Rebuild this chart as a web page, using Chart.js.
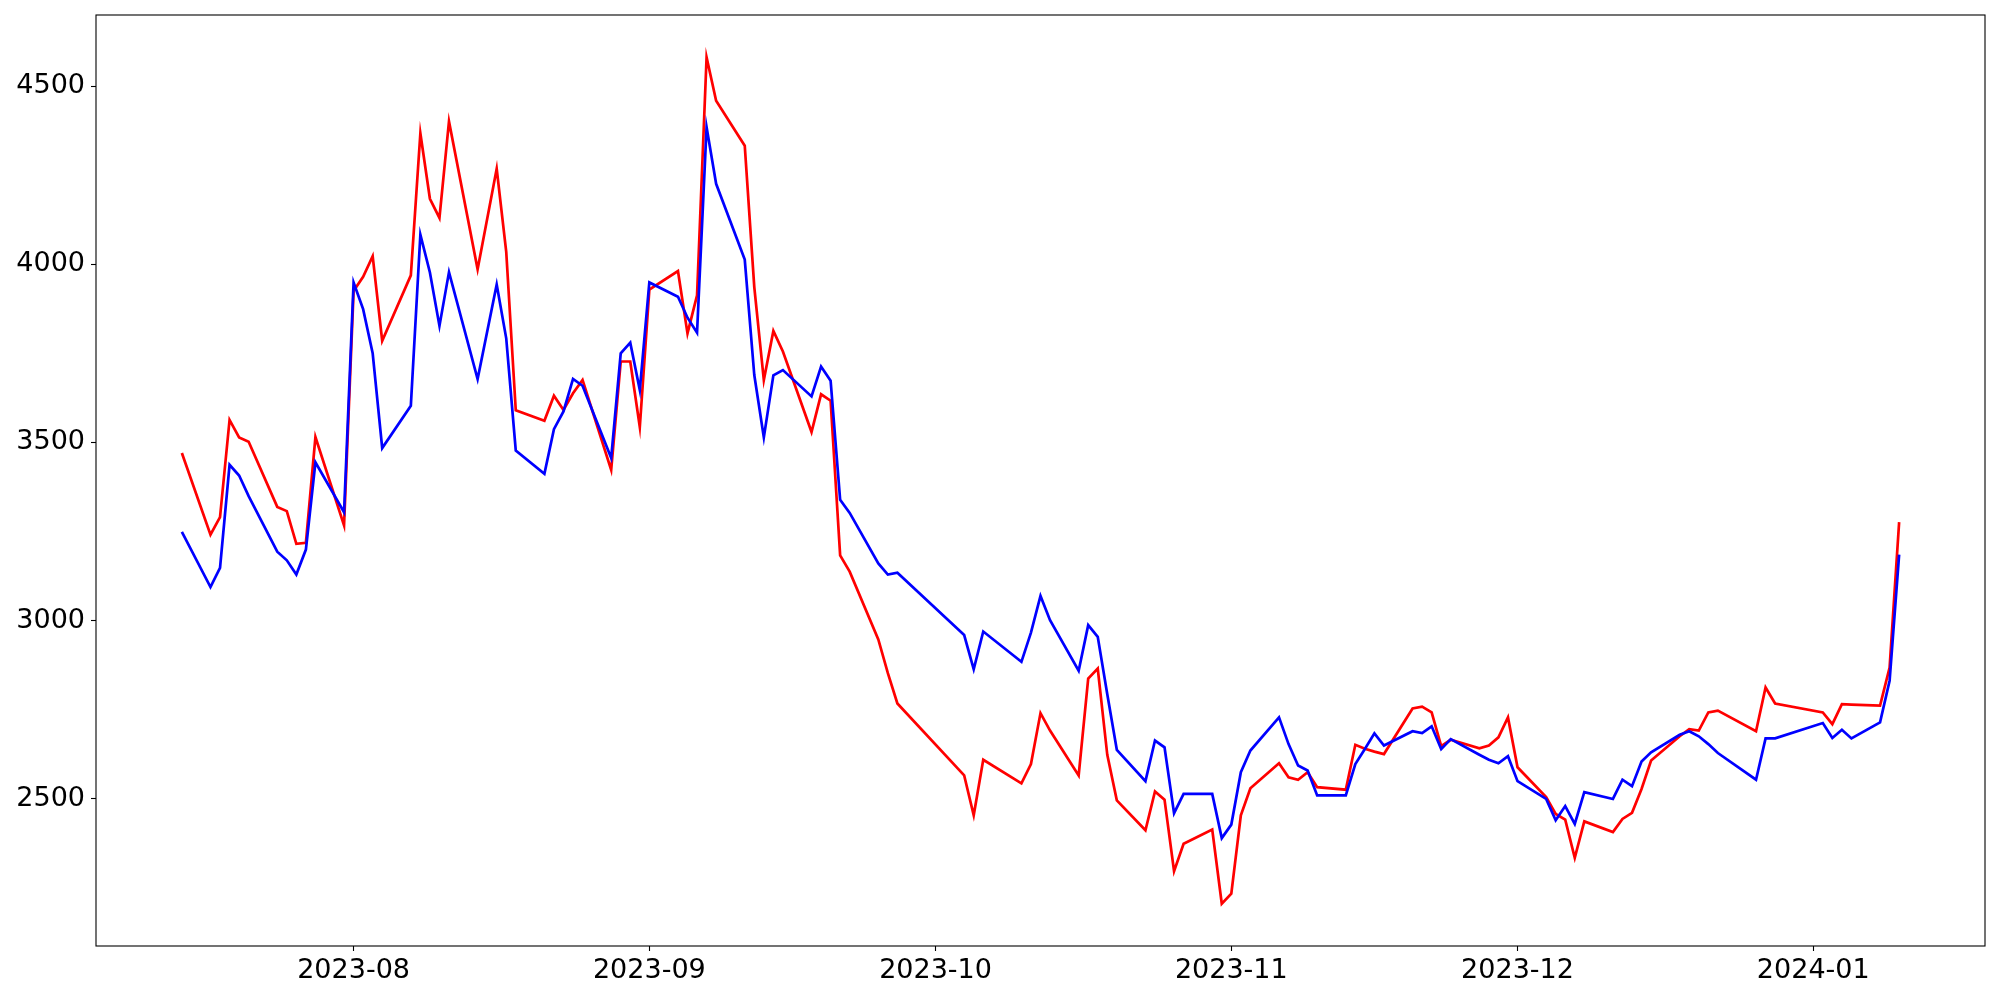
<!DOCTYPE html>
<html>
<head>
<meta charset="utf-8">
<script src="https://cdn.jsdelivr.net/npm/chart.js@4.4.1/dist/chart.umd.min.js"></script>
<style>
    html, body { margin: 0; padding: 0; background: #fff; }
    #chart { display: block; }
</style>
</head>
<body>
<canvas id="chart" width="2000" height="1000"></canvas>
<script>
"use strict";

const dates = [
    '2023-07-14', '2023-07-17', '2023-07-18', '2023-07-19', '2023-07-20', '2023-07-21',
    '2023-07-24', '2023-07-25', '2023-07-26', '2023-07-27', '2023-07-28', '2023-07-31',
    '2023-08-01', '2023-08-02', '2023-08-03', '2023-08-04', '2023-08-07', '2023-08-08',
    '2023-08-09', '2023-08-10', '2023-08-11', '2023-08-14', '2023-08-16', '2023-08-17',
    '2023-08-18', '2023-08-21', '2023-08-22', '2023-08-23', '2023-08-24', '2023-08-25',
    '2023-08-28', '2023-08-29', '2023-08-30', '2023-08-31', '2023-09-01', '2023-09-04',
    '2023-09-05', '2023-09-06', '2023-09-07', '2023-09-08', '2023-09-11', '2023-09-12',
    '2023-09-13', '2023-09-14', '2023-09-15', '2023-09-18', '2023-09-19', '2023-09-20',
    '2023-09-21', '2023-09-22', '2023-09-25', '2023-09-26', '2023-09-27', '2023-10-04',
    '2023-10-05', '2023-10-06', '2023-10-10', '2023-10-11', '2023-10-12', '2023-10-13',
    '2023-10-16', '2023-10-17', '2023-10-18', '2023-10-19', '2023-10-20', '2023-10-23',
    '2023-10-24', '2023-10-25', '2023-10-26', '2023-10-27', '2023-10-30', '2023-10-31',
    '2023-11-01', '2023-11-02', '2023-11-03', '2023-11-06', '2023-11-07', '2023-11-08',
    '2023-11-09', '2023-11-10', '2023-11-13', '2023-11-14', '2023-11-15', '2023-11-16',
    '2023-11-17', '2023-11-20', '2023-11-21', '2023-11-22', '2023-11-23', '2023-11-24',
    '2023-11-27', '2023-11-28', '2023-11-29', '2023-11-30', '2023-12-01', '2023-12-04',
    '2023-12-05', '2023-12-06', '2023-12-07', '2023-12-08', '2023-12-11', '2023-12-12',
    '2023-12-13', '2023-12-14', '2023-12-15', '2023-12-18', '2023-12-19', '2023-12-20',
    '2023-12-21', '2023-12-22', '2023-12-26', '2023-12-27', '2023-12-28', '2024-01-02',
    '2024-01-03', '2024-01-04', '2024-01-05', '2024-01-08', '2024-01-09', '2024-01-10'
];

const redValues = [
    3470, 3241, 3290, 3563, 3514, 3502,
    3319, 3307, 3215, 3218, 3515, 3267,
    3925, 3965, 4023, 3785, 3969, 4368,
    4184, 4130, 4401, 3986, 4268, 4035,
    3590, 3561, 3631, 3591, 3638, 3675,
    3423, 3727, 3727, 3543, 3929, 3981,
    3806, 3913, 4581, 4459, 4333, 3936,
    3675, 3813, 3755, 3529, 3635, 3617,
    3183, 3137, 2947, 2852, 2767, 2565,
    2453, 2609, 2543, 2597, 2740, 2691,
    2565, 2837, 2865, 2623, 2495, 2411,
    2520, 2497, 2296, 2373, 2413, 2205,
    2233, 2453, 2529, 2599, 2560, 2553,
    2574, 2532, 2525, 2651, 2640, 2632,
    2625, 2753, 2758, 2742, 2647, 2665,
    2641, 2649, 2672, 2728, 2588, 2504,
    2457, 2441, 2334, 2436, 2406, 2443,
    2460, 2527, 2607, 2675, 2695, 2691,
    2742, 2747, 2689, 2812, 2767, 2742,
    2709, 2765, 2764, 2761, 2868, 3276
];

const blueValues = [
    3249, 3094, 3148, 3437, 3407, 3349,
    3193, 3169, 3129, 3199, 3444, 3304,
    3949, 3874, 3750, 3484, 3603, 4083,
    3977, 3827, 3978, 3678, 3943, 3792,
    3477, 3412, 3537, 3587, 3678, 3659,
    3456, 3750, 3780, 3647, 3949, 3909,
    3850, 3808, 4385, 4226, 4013, 3689,
    3514, 3688, 3703, 3629, 3713, 3673,
    3339, 3302, 3160, 3129, 3134, 2959,
    2863, 2969, 2884, 2966, 3069, 3001,
    2859, 2987, 2954, 2793, 2637, 2549,
    2663, 2644, 2459, 2513, 2513, 2389,
    2427, 2574, 2635, 2728, 2653, 2593,
    2579, 2509, 2509, 2597, 2639, 2683,
    2649, 2689, 2684, 2703, 2639, 2667,
    2623, 2609, 2599, 2619, 2549, 2499,
    2439, 2479, 2429, 2518, 2499, 2553,
    2535, 2604, 2630, 2679, 2689, 2675,
    2653, 2628, 2553, 2669, 2669, 2712,
    2670, 2693, 2669, 2714, 2831, 3185
];

const monthTicks = ['2023-08-01', '2023-09-01', '2023-10-01', '2023-11-01', '2023-12-01', '2024-01-01'];
const monthLabels = ['2023-08', '2023-09', '2023-10', '2023-11', '2023-12', '2024-01'];
const yTicks = [2500, 3000, 3500, 4000, 4500];

// days counted from the first date, so a plain linear scale does the job
const base = Date.parse(dates[0]);
const dayOf = (s) => (Date.parse(s) - base) / 86400000;

const lastDay = dayOf(dates[dates.length - 1]);
const allValues = redValues.concat(blueValues);
const yMin = Math.min(...allValues);
const yMax = Math.max(...allValues);
const yPad = (yMax - yMin) * 0.05;

const tickFont = { family: 'DejaVu Sans', size: 27 };

const frame = {
    id: 'frame',
    afterDraw(chart) {
        const { ctx, chartArea } = chart;
        ctx.save();
        ctx.strokeStyle = '#000';
        ctx.lineWidth = 1.1;
        ctx.strokeRect(chartArea.left, chartArea.top, chartArea.right - chartArea.left, chartArea.bottom - chartArea.top);
        ctx.restore();
    }
};

new Chart(document.getElementById('chart'), {
    type: 'line',
    data: {
        datasets: [
            {
                data: dates.map((d, i) => ({ x: dayOf(d), y: redValues[i] })),
                borderColor: '#ff0000',
                borderWidth: 2.7,
                pointRadius: 0,
                tension: 0,
                order: 1
            },
            {
                data: dates.map((d, i) => ({ x: dayOf(d), y: blueValues[i] })),
                borderColor: '#0000ff',
                borderWidth: 2.7,
                pointRadius: 0,
                tension: 0,
                order: 0
            }
        ]
    },
    options: {
        responsive: false,
        animation: false,
        devicePixelRatio: 1,
        layout: { padding: { left: 0, top: 15, right: 15, bottom: 0 } },
        plugins: {
            legend: { display: false },
            tooltip: { enabled: false }
        },
        scales: {
            x: {
                type: 'linear',
                min: -lastDay * 0.05,
                max: lastDay * 1.05,
                afterBuildTicks: (scale) => {
                    scale.ticks = monthTicks.map((m) => ({ value: dayOf(m) }));
                },
                afterFit: (scale) => {
                    scale.height = 54;
                    scale.paddingLeft = 0;
                    scale.paddingRight = 0;
                },
                ticks: {
                    autoSkip: false,
                    maxRotation: 0,
                    padding: 4,
                    color: '#000',
                    font: tickFont,
                    callback: (value) => monthLabels[monthTicks.findIndex((m) => dayOf(m) === value)]
                },
                grid: { drawOnChartArea: false, drawTicks: true, tickLength: 5, tickColor: '#000', tickWidth: 1.1 },
                border: { display: false }
            },
            y: {
                min: yMin - yPad,
                max: yMax + yPad,
                afterBuildTicks: (scale) => {
                    scale.ticks = yTicks.map((v) => ({ value: v }));
                },
                afterFit: (scale) => {
                    scale.width = 96;
                    scale.paddingTop = 0;
                    scale.paddingBottom = 0;
                },
                ticks: {
                    padding: 6,
                    color: '#000',
                    font: tickFont,
                    callback: (value) => String(value)
                },
                grid: { drawOnChartArea: false, drawTicks: true, tickLength: 5, tickColor: '#000', tickWidth: 1.1 },
                border: { display: false }
            }
        }
    },
    plugins: [frame]
});
</script>
</body>
</html>
